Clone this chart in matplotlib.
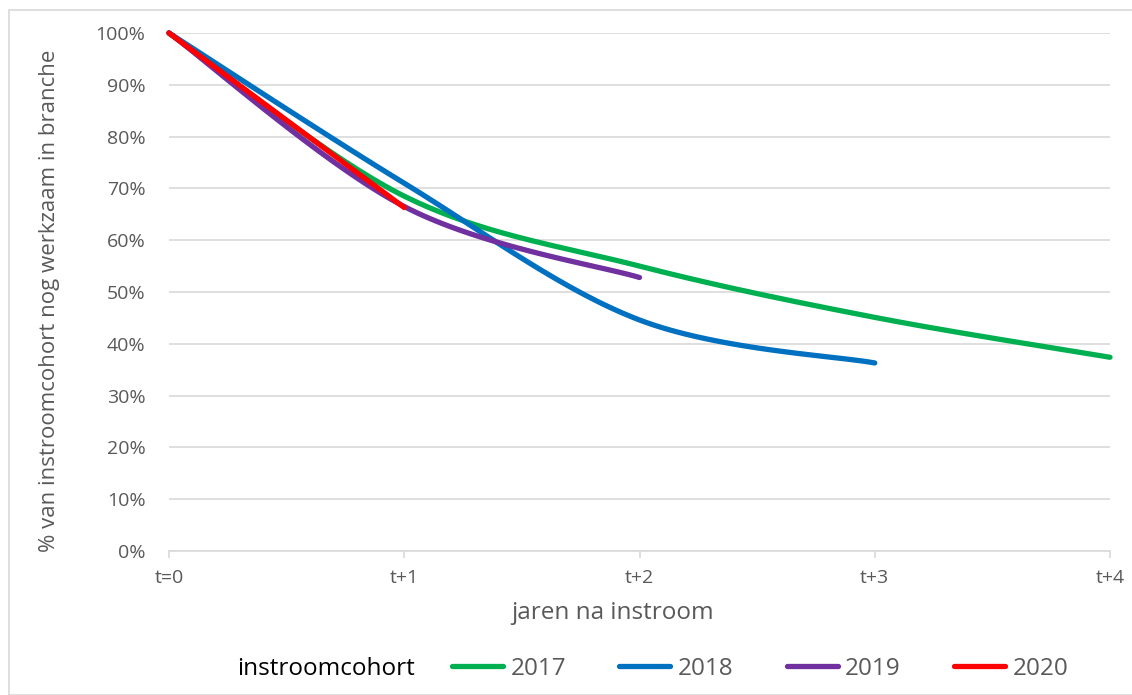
import numpy as np
import matplotlib.pyplot as plt
from matplotlib.lines import Line2D
from matplotlib.patches import Rectangle
from matplotlib.ticker import PercentFormatter

plt.rcParams['font.family'] = ['Open Sans', 'DejaVu Sans']

# retentie per instroomcohort (% nog werkzaam in branche)
jaren = ['t=0', 't+1', 't+2', 't+3', 't+4']
cohorten = ['2017', '2018', '2019', '2020']
cohort_2017 = [100, 68.5, 55.0, 45.1, 37.4]
cohort_2018 = [100, 71.0, 44.6, 36.3]
cohort_2019 = [100, 66.5, 52.8]
cohort_2020 = [100, 66.3]
kleuren = ['#00B050', '#0070C0', '#7030A0', '#FF0000']


def glad(x, y, n=40):
    # bezier-smoothing zoals in Excel: controlepunten uit buurpunten
    x = np.asarray(x, float)
    y = np.asarray(y, float)
    if len(x) < 3:
        return x, y
    px = np.concatenate([[x[0]], x, [x[-1]]])
    py = np.concatenate([[y[0]], y, [y[-1]]])
    t = np.linspace(0, 1, n)
    xs, ys = [], []
    for i in range(1, len(px) - 2):
        p0 = np.array([px[i], py[i]])
        p3 = np.array([px[i + 1], py[i + 1]])
        c1 = p0 + (p3 - np.array([px[i - 1], py[i - 1]])) / 6
        c2 = p3 - (np.array([px[i + 2], py[i + 2]]) - p0) / 6
        b = ((1 - t) ** 3)[:, None] * p0 + (3 * (1 - t) ** 2 * t)[:, None] * c1 \
            + (3 * (1 - t) * t ** 2)[:, None] * c2 + (t ** 3)[:, None] * p3
        xs.append(b[:, 0])
        ys.append(b[:, 1])
    return np.concatenate(xs), np.concatenate(ys)


fig = plt.figure(figsize=(11.32, 6.95), dpi=100)
ax = fig.add_axes([169 / 1132, 1 - 551 / 695, 941 / 1132, 518 / 695])

reeksen = [cohort_2017, cohort_2018, cohort_2019, cohort_2020]
for naam, waarden, kleur in zip(cohorten, reeksen, kleuren):
    xs, ys = glad(range(len(waarden)), waarden)
    ax.plot(xs, ys, color=kleur, lw=3.8, solid_capstyle='round',
            clip_on=False, zorder=3, label=naam)

ax.set_xlim(0, len(jaren) - 1)
ax.set_ylim(0, 100)
ax.set_yticks(range(0, 101, 10))
ax.yaxis.set_major_formatter(PercentFormatter(decimals=0))
ax.set_xticks(range(len(jaren)))
ax.set_xticklabels(jaren)
ax.grid(axis='y', color='#d9d9d9', lw=1.2)
ax.set_axisbelow(True)
for s in ['top', 'right', 'left']:
    ax.spines[s].set_visible(False)
ax.spines['bottom'].set_color('#d9d9d9')
ax.spines['bottom'].set_linewidth(1.2)
ax.tick_params(axis='y', length=0, pad=17, labelsize=14, labelcolor='#595959')
ax.tick_params(axis='x', length=5, width=1.2, color='#d9d9d9', pad=8,
               labelsize=14, labelcolor='#595959')

fig.text(50 / 1132, 1 - 301 / 695, '% van instroomcohort nog werkzaam in branche',
         rotation=90, ha='center', va='center', fontsize=16, color='#595959')
fig.text(613 / 1132, 1 - 613 / 695, 'jaren na instroom', ha='center', va='center',
         fontsize=17.5, color='#595959')

# legenda onderaan
fig.text(237 / 1132, 1 - 669 / 695, 'instroomcohort', ha='left', va='center',
         fontsize=17.5, color='black')
handles = [Line2D([], [], color=k, lw=3.8, solid_capstyle='round') for k in kleuren]
fig.legend(handles, cohorten, loc='center left', ncol=4, frameon=False,
           bbox_to_anchor=(452 / 1132, 1 - 669 / 695), borderpad=0, borderaxespad=0,
           handlelength=2.1, handletextpad=0.3, columnspacing=2.2,
           prop={'size': 17.5}, labelcolor='#595959')

# kader rond grafiek
fig.patches.append(Rectangle((9 / 1132, 0), 1.2, 1 - 10 / 695, transform=fig.transFigure,
                             fill=False, edgecolor='#d9d9d9', lw=1.2))

fig.savefig('out.png', dpi=100)
